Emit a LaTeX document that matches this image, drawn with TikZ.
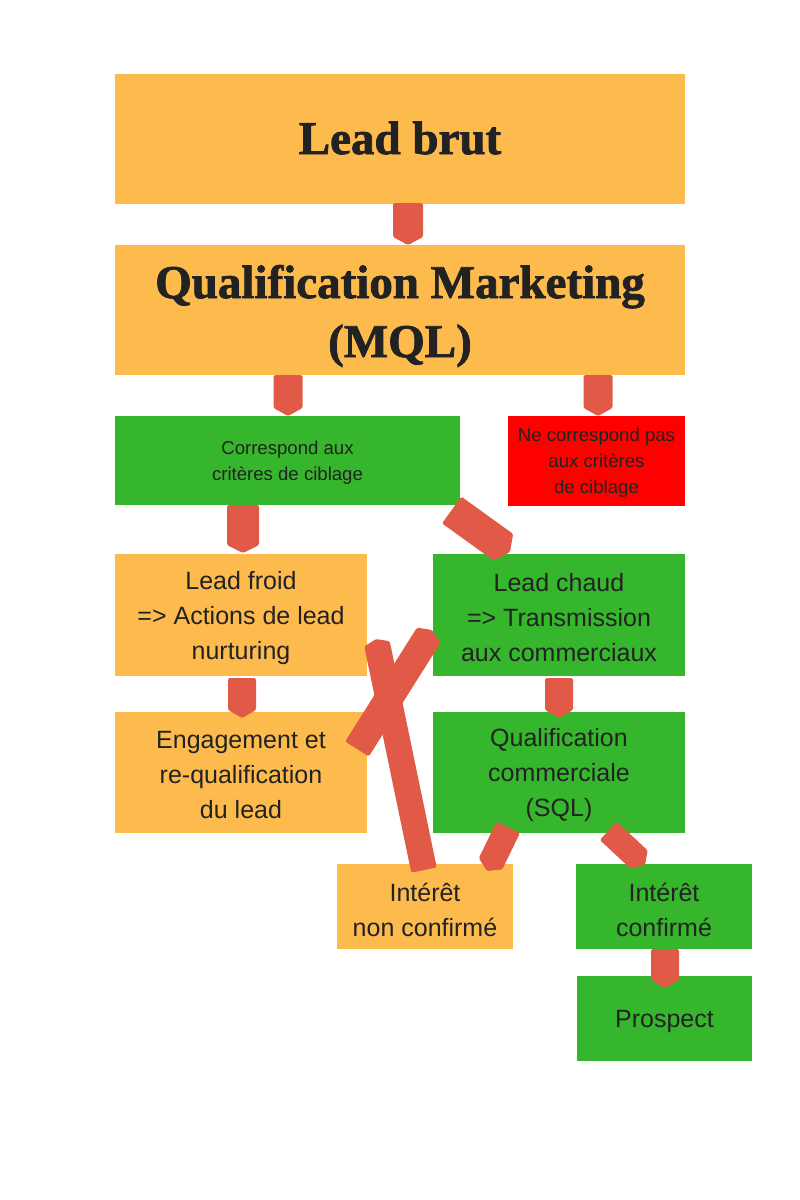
\documentclass[tikz,border=0pt]{standalone}
\usepackage{fontspec}
\setmainfont{Liberation Sans}
\newfontfamily\titlefont[FakeBold=1.6]{Liberation Serif Bold}
\usetikzlibrary{calc}
\definecolor{orangebox}{HTML}{FDBB4E}
\definecolor{greenbox}{HTML}{36B62C}
\definecolor{redbox}{HTML}{FF0000}
\definecolor{arrowred}{HTML}{E05A47}
\definecolor{txt}{HTML}{222222}
\tikzset{
  boxo/.style={fill=orangebox,draw=none},
  boxg/.style={fill=greenbox,draw=none},
  boxr/.style={fill=redbox,draw=none},
  bigtxt/.style={text=txt,align=center,font=\titlefont\fontsize{47}{59}\selectfont},
  midtxt/.style={text=txt,align=center,font=\fontsize{25}{35}\selectfont},
  smalltxt/.style={text=txt,align=center,font=\fontsize{18.6}{26}\selectfont},
  flechastyle/.style={fill=arrowred,draw=none,rounded corners=1.5pt},
}
% #1 start coordinate, #2 tip coordinate, #3 half width, #4 tip length
\newcommand\flecha[4]{%
  \fill[flechastyle]
    ($(#1)!#3!90:(#2)$) --
    ($($(#2)!#4!(#1)$)!#3!-90:(#1)$) --
    (#2) --
    ($($(#2)!#4!(#1)$)!#3!90:(#1)$) --
    ($(#1)!#3!-90:(#2)$) -- cycle;}
\begin{document}
\begin{tikzpicture}[x=1pt,y=-1pt]
\useasboundingbox (0,0) rectangle (800,1200);
\fill[white] (0,0) rectangle (800,1200);

% boxes
\fill[boxo] (115,74) rectangle (685,204);
\node[bigtxt] (brut) at (400,138) {Lead brut};
\fill[boxo] (115,245) rectangle (685,375);
\node[bigtxt] (mql) at (400,316) {Qualification Marketing\\(MQL)};

\fill[boxg] (115,416) rectangle (460,505);
\node[smalltxt] (corr) at (287.5,462.5) {Correspond aux\\critères de ciblage};
\fill[boxr] (508,416) rectangle (685,506);
\node[smalltxt] (ncorr) at (596.5,463) {Ne correspond pas\\aux critères\\de ciblage};

\fill[boxo] (115,554) rectangle (367,676);
\node[midtxt] (froid) at (241,618) {Lead froid\\=> Actions de lead\\nurturing};
\fill[boxg] (433,554) rectangle (685,676);
\node[midtxt] (chaud) at (559,618) {Lead chaud\\=> Transmission\\aux commerciaux};

\fill[boxo] (115,712) rectangle (367,833);
\node[midtxt] (engag) at (241,775) {Engagement et\\re-qualification\\du lead};
\fill[boxg] (433,712) rectangle (685,833);
\node[midtxt] (sql) at (559,775) {Qualification\\commerciale\\(SQL)};

\fill[boxo] (337,864) rectangle (513,949);
\node[midtxt] (nonconf) at (425,910) {Intérêt\\non confirmé};
\fill[boxg] (576,864) rectangle (752,949);
\node[midtxt] (conf) at (664,910) {Intérêt\\confirmé};

\fill[boxg] (577,976) rectangle (752,1061);
\node[midtxt] (prospect) at (664.5,1021) {Prospect};

% arrow coordinates
\coordinate (a1s) at (408,203);  \coordinate (a1e) at (408,245);
\coordinate (a2s) at (288,375);  \coordinate (a2e) at (288,416);
\coordinate (a3s) at (598,375);  \coordinate (a3e) at (598,416);
\coordinate (a4s) at (243,505);  \coordinate (a4e) at (243,553);
\coordinate (a5s) at (451.7,510);  \coordinate (a5e) at (510,552);
\coordinate (a6s) at (424,870);  \coordinate (a6e) at (376,639);
\coordinate (a7s) at (357,749);  \coordinate (a7e) at (432,630);
\coordinate (a8s) at (242,678);  \coordinate (a8e) at (242,718);
\coordinate (a9s) at (559,678);  \coordinate (a9e) at (559,718);
\coordinate (a10s) at (508.3,827.3); \coordinate (a10e) at (487,871);
\coordinate (a11s) at (608.3,830.8); \coordinate (a11e) at (645,865);
\coordinate (a12s) at (665,949); \coordinate (a12e) at (665,988);

\flecha{a1s}{a1e}{15pt}{8pt}
\flecha{a2s}{a2e}{14.5pt}{8pt}
\flecha{a3s}{a3e}{14.5pt}{8pt}
\flecha{a4s}{a4e}{16pt}{8pt}
\flecha{a5s}{a5e}{16.5pt}{8pt}
\flecha{a6s}{a6e}{13pt}{5pt}
\flecha{a7s}{a7e}{14pt}{6pt}
\flecha{a8s}{a8e}{14pt}{8pt}
\flecha{a9s}{a9e}{14pt}{8pt}
\flecha{a10s}{a10e}{13pt}{8pt}
\flecha{a11s}{a11e}{12.5pt}{8pt}
\flecha{a12s}{a12e}{14pt}{8pt}
\end{tikzpicture}
\end{document}
